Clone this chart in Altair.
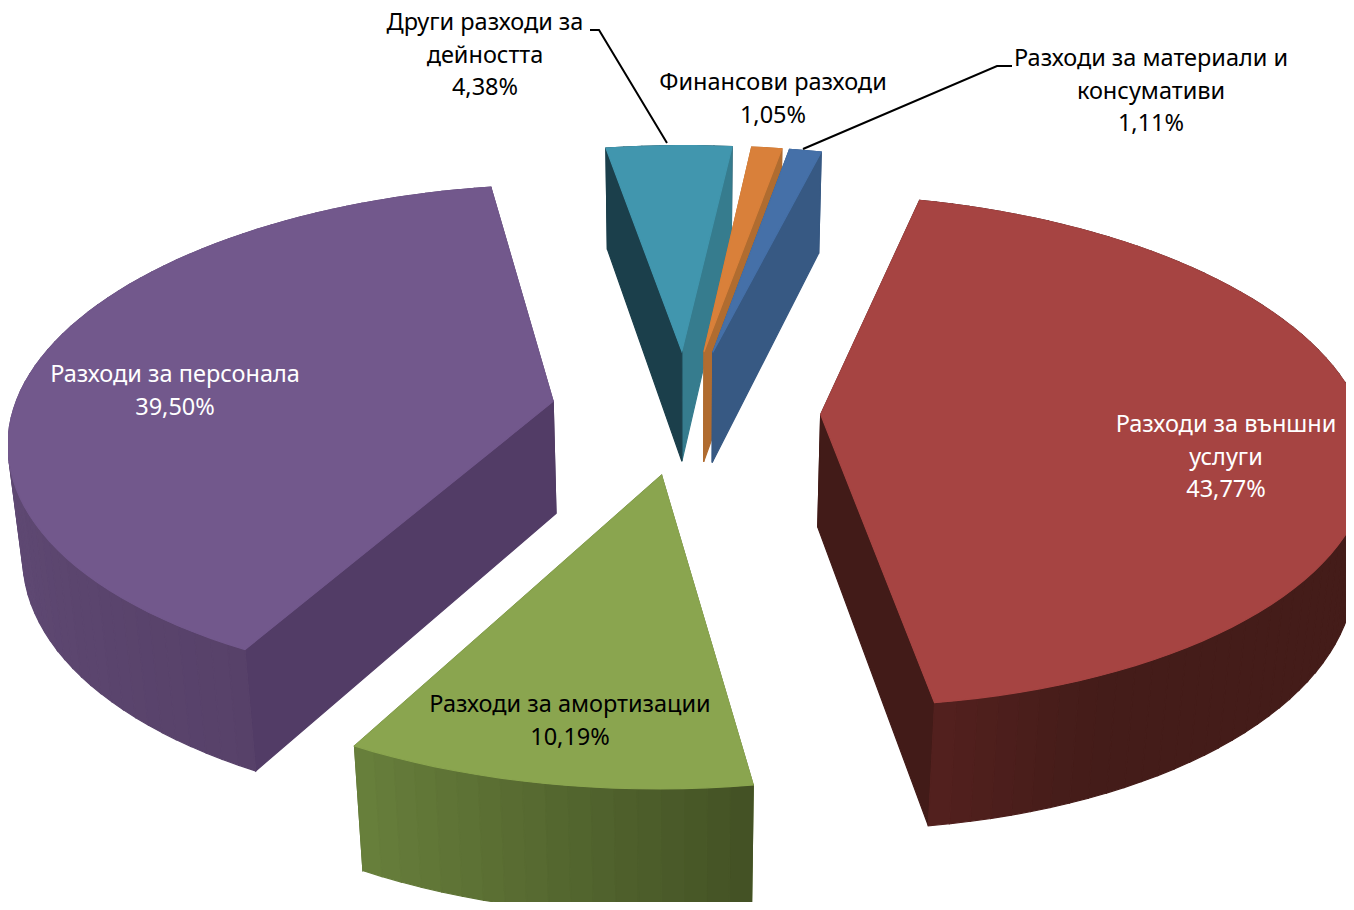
import math
import altair as alt

# ---- chart data ----
names = ["Разходи за материали и\nконсумативи", "Разходи за външни\nуслуги", "Разходи за амортизации",
         "Разходи за персонала", "Други разходи за\nдейността", "Финансови разходи"]
shares = [1.11, 43.77, 10.19, 39.50, 4.38, 1.05]
top_colors = ["#4570a8", "#a64442", "#8aa54f", "#72588c", "#4196ae", "#d9803a"]
cut_start_colors = ["#375983", "#421b18", "#5d7136", "#523c66", "#1b3f4b", "#b06c30"]
cut_end_colors = ["#375983", "#421b18", "#5d7136", "#523c66", "#367c8e", "#b06c30"]
wall_stops = [
    [(0, "#375983"), (1, "#375983")],
    [(0, "#441c19"), (0.9, "#441c19"), (1, "#53201e")],
    [(0, "#435124"), (1, "#68803c")],
    [(0, "#574169"), (0.45, "#624c77"), (1, "#624c77")],
    [(0, "#1b3f4b"), (1, "#1b3f4b")],
    [(0, "#b06c30"), (1, "#b06c30")],
]
label_colors = ["black", "white", "black", "white", "black", "black"]
label_x = [1151, 1226, 570, 175, 485, 773]
label_y = [59, 425, 705, 375, 23, 83]
leader_x = [[1012, 997, 803], [590, 599, 667]]
leader_y = [[66, 66, 149], [30, 30, 143]]
draw_order = [4, 5, 0, 3, 1, 2]

# ---- camera of the 3-D pie ----
CX, CY, RX, RY = 685.6, 411.5, 540.0, 250.0
PERSP, DEPTH_W, DEPTH_H = 0.14, 0.022, 115.0
EXPLODE, START = 0.25, 10.0
OFFSET = 8


def project(u, v, bottom=False):
    w = 1 - PERSP * v + (DEPTH_W if bottom else 0)
    return [CX + RX * u / w, CY + (RY * v + (DEPTH_H if bottom else 0)) / w]


def hex_mix(a, b, t):
    ca = [int(a[i:i + 2], 16) for i in (1, 3, 5)]
    cb = [int(b[i:i + 2], 16) for i in (1, 3, 5)]
    return "#" + "".join(f"{round(x + (y - x) * t):02x}" for x, y in zip(ca, cb))


def stop_color(stops, t):
    for (t0, c0), (t1, c1) in zip(stops, stops[1:]):
        if t <= t1:
            return hex_mix(c0, c1, (t - t0) / (t1 - t0) if t1 > t0 else 0)
    return stops[-1][1]


def feature(points, fill):
    ring = [list(p) for p in points] + [list(points[0])]
    return {"type": "Feature", "properties": {"fill": fill},
            "geometry": {"type": "Polygon", "coordinates": [ring]}}


total = sum(shares)
bounds, a = [], START
for s in shares:
    bounds.append((a, a + 360.0 * s / total))
    a = bounds[-1][1]

features = []
for i in draw_order:
    a0, a1 = bounds[i]
    mid = math.radians((a0 + a1) / 2)
    ou, ov = EXPLODE * math.sin(mid), -EXPLODE * math.cos(mid)
    n = max(2, int((a1 - a0) / 2))
    arc = []
    for k in range(n + 1):
        t = math.radians(a0 + (a1 - a0) * k / n)
        arc.append((ou + math.sin(t), ov - math.cos(t)))
    sides = []
    for k in range(n):
        p, q = arc[k], arc[k + 1]
        poly = [project(*p), project(*q), project(*q, True), project(*p, True)]
        sides.append(((p[1] + q[1]) / 2, feature(poly, stop_color(wall_stops[i], (k + 0.5) / n))))
    for p, col in ((arc[0], cut_start_colors[i]), (arc[-1], cut_end_colors[i])):
        poly = [project(ou, ov), project(*p), project(*p, True), project(ou, ov, True)]
        sides.append(((ov + p[1]) / 2, feature(poly, col)))
    sides.sort(key=lambda s: s[0])
    features += [s[1] for s in sides]
    features.append(feature([project(ou, ov)] + [project(*p) for p in arc], top_colors[i]))

pie = alt.Chart(alt.InlineData(values={"type": "FeatureCollection", "features": features},
                               format=alt.DataFormat(property="features", type="json"))
                ).mark_geoshape(strokeWidth=1.2).encode(
    fill=alt.Fill("properties.fill:N", scale=None, legend=None),
    stroke=alt.Stroke("properties.fill:N", scale=None, legend=None),
).project(type="identity", scale=1, translate=[-OFFSET, -OFFSET])

leader_rows = [{"id": j, "o": k, "x": x - OFFSET, "y": y - OFFSET}
               for j, (xs, ys) in enumerate(zip(leader_x, leader_y))
               for k, (x, y) in enumerate(zip(xs, ys))]
leaders = alt.Chart(alt.Data(values=leader_rows)).mark_line(color="black", strokeWidth=2).encode(
    x=alt.X("x:Q", scale=None, axis=None),
    y=alt.Y("y:Q", scale=None, axis=None),
    detail="id:N",
    order="o:Q",
)

label_rows = [{"t": f"{n}\n{s:.2f}%".replace(".", ","), "x": x - OFFSET, "y": y - OFFSET, "c": c}
              for n, s, x, y, c in zip(names, shares, label_x, label_y, label_colors)]
labels = alt.Chart(alt.Data(values=label_rows)).mark_text(
    font="Noto Sans", fontSize=23.5, lineBreak="\n", lineHeight=32.5, align="center", baseline="middle"
).encode(
    x=alt.X("x:Q", scale=None, axis=None),
    y=alt.Y("y:Q", scale=None, axis=None),
    text="t:N",
    color=alt.Color("c:N", scale=None, legend=None),
)

chart = alt.layer(pie, leaders, labels).properties(
    width=1338, height=894, padding=0, background="white"
).configure_view(stroke=None)

chart.save("out.html", embed_options={"renderer": "svg", "actions": False})
